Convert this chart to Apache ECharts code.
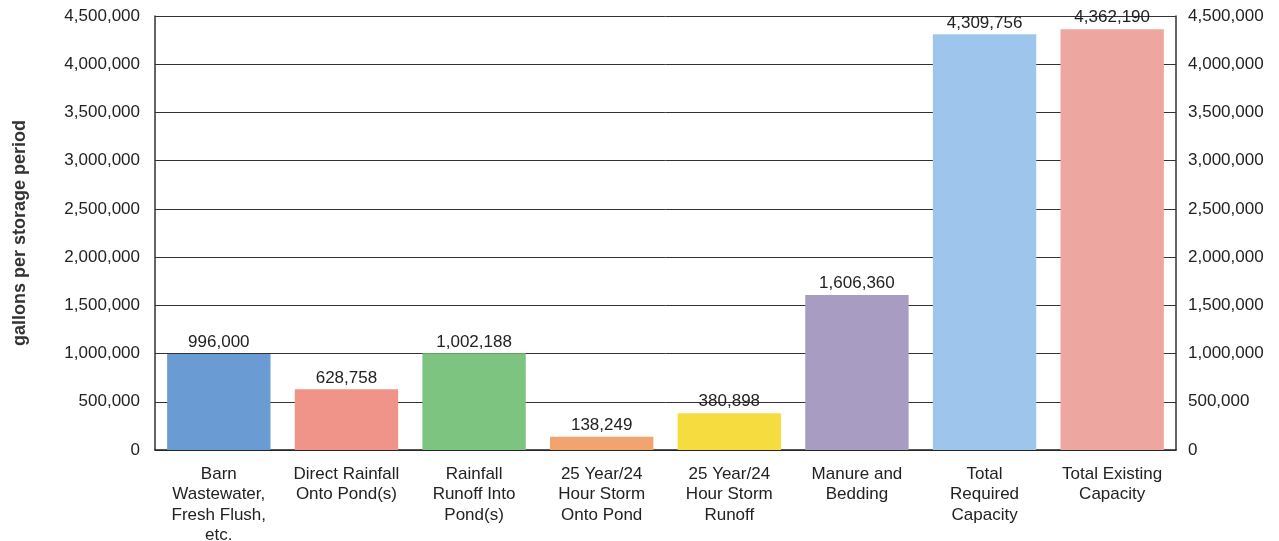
<!DOCTYPE html>
<html><head><meta charset="utf-8">
<script src="https://cdn.jsdelivr.net/npm/echarts@6/dist/echarts.min.js"></script>
<style>html,body{margin:0;padding:0;background:#fff;}#c{width:1279px;height:541px;}</style>
</head><body><div id="c"></div>
<script>
const categories = ["Barn\nWastewater,\nFresh Flush,\netc.", "Direct Rainfall\nOnto Pond(s)", "Rainfall\nRunoff Into\nPond(s)", "25 Year/24\nHour Storm\nOnto Pond", "25 Year/24\nHour Storm\nRunoff", "Manure and\nBedding", "Total\nRequired\nCapacity", "Total Existing\nCapacity"];
const values = [996000, 628758, 1002188, 138249, 380898, 1606360, 4309756, 4362190];
const barColors = ["#6b9bd3", "#f0948a", "#7dc480", "#f2a470", "#f6dc3e", "#a89cc2", "#9ec6ec", "#eea6a0"];
const yAxisName = "gallons per storage period";

const fmt = v => Number(v).toLocaleString('en-US');
const font = "Liberation Sans, Arial, sans-serif";
const chart = echarts.init(document.getElementById('c'));
chart.setOption({
  animation: false,
  grid: {left: 155, right: 103, top: 16, bottom: 91, containLabel: false, outerBoundsMode: 'none'},
  xAxis: {
    type: 'category', data: categories,
    axisLine: {lineStyle: {color: '#222', width: 1.5}},
    axisTick: {alignWithLabel: true, length: 5, lineStyle: {color: '#555'}},
    axisLabel: {color: '#222', fontSize: 17, fontFamily: font, lineHeight: 20.5, margin: 14, interval: 0}
  },
  yAxis: [
    {type: 'value', min: 0, max: 4500000, interval: 500000,
     name: yAxisName, nameLocation: 'middle', nameGap: 126, nameRotate: 90,
     nameTextStyle: {fontSize: 18, fontWeight: 'bold', color: '#333', fontFamily: font},
     axisLine: {show: true, lineStyle: {color: '#333', width: 1.5}},
     axisTick: {show: false},
     splitLine: {lineStyle: {color: '#333', width: 1}},
     axisLabel: {formatter: fmt, color: '#222', fontSize: 17, fontFamily: font, margin: 15}},
    {type: 'value', min: 0, max: 4500000, interval: 500000, position: 'right',
     axisLine: {show: true, lineStyle: {color: '#333', width: 1.5}},
     axisTick: {show: true, inside: true, length: 6, lineStyle: {color: '#333'}},
     splitLine: {show: false},
     axisLabel: {formatter: fmt, color: '#222', fontSize: 17, fontFamily: font, margin: 12}}
  ],
  series: [{
    type: 'bar', barCategoryGap: '19%',
    data: values.map((v, i) => ({value: v, itemStyle: {color: barColors[i]}})),
    label: {show: true, position: 'top', formatter: p => fmt(p.value), color: '#222', fontSize: 17, fontFamily: font, distance: 3}
  }]
});
</script></body></html>
